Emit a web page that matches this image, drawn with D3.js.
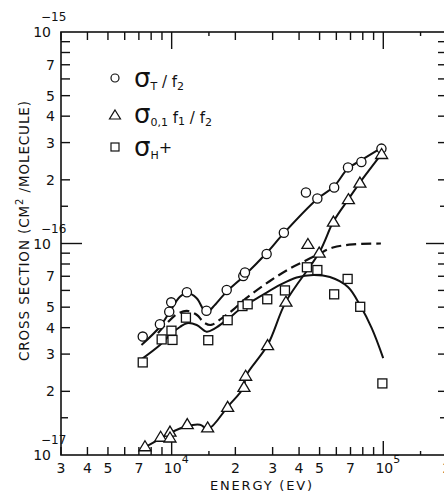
<!DOCTYPE html>
<html>
<head>
<meta charset="utf-8">
<script src="https://cdn.jsdelivr.net/npm/d3@7"></script>
<style>
  html, body { margin: 0; padding: 0; background: #fff; }
  svg { display: block; }
  text { font-family: "DejaVu Sans", sans-serif; fill: #111; }
</style>
</head>
<body>
<div id="chart"></div>
<script>
// ---------------- data (energy in eV, cross section in cm^2/molecule) ----------------
const circleE   = [7300, 8800, 9740, 9950, 11800, 14600, 18200, 21800, 22200, 28100, 33900, 43100, 48800, 58600, 68100, 78800, 98000];
const circleSig = [3.63e-17, 4.15e-17, 4.76e-17, 5.27e-17, 5.88e-17, 4.81e-17, 6.03e-17, 7.02e-17, 7.29e-17, 8.92e-17, 1.125e-16, 1.742e-16, 1.633e-16, 1.84e-16, 2.29e-16, 2.43e-16, 2.81e-16];

const triE   = [7480, 8870, 9820, 9820, 11850, 14790, 18390, 21960, 22370, 28400, 34670, 44040, 49790, 58120, 68420, 77540, 98200];
const triSig = [1.10e-17, 1.22e-17, 1.29e-17, 1.21e-17, 1.40e-17, 1.35e-17, 1.69e-17, 2.10e-17, 2.37e-17, 3.31e-17, 5.31e-17, 9.95e-17, 9.06e-17, 1.27e-16, 1.62e-16, 1.94e-16, 2.65e-16];

const sqE   = [7300, 8970, 9980, 10090, 11680, 14890, 18390, 21600, 22860, 28290, 34300, 43560, 48800, 58600, 67840, 77800, 99000];
const sqSig = [2.74e-17, 3.52e-17, 3.87e-17, 3.50e-17, 4.46e-17, 3.49e-17, 4.34e-17, 5.06e-17, 5.16e-17, 5.45e-17, 6.0e-17, 7.72e-17, 7.49e-17, 5.75e-17, 6.80e-17, 5.02e-17, 2.18e-17];

// fitted curves
const circleCurveE   = [7200, 8800, 9740, 10940, 11850, 13130, 14110, 14680, 15720, 18190, 21780, 28100, 33900, 48570, 58470, 68060, 78800, 98500];
const circleCurveSig = [3.31e-17, 4.04e-17, 4.71e-17, 5.60e-17, 5.83e-17, 5.51e-17, 4.88e-17, 4.72e-17, 5.02e-17, 5.92e-17, 6.97e-17, 9.02e-17, 1.12e-16, 1.62e-16, 1.86e-16, 2.26e-16, 2.48e-16, 2.84e-16];

const dashCurveE   = [8615, 9605, 10600, 11810, 13170, 14210, 15340, 17100, 19480, 22440, 29130, 36220, 42630, 50180, 57800, 71850, 97430];
const dashCurveSig = [3.77e-17, 4.25e-17, 4.64e-17, 4.80e-17, 4.59e-17, 4.23e-17, 4.12e-17, 4.40e-17, 4.85e-17, 5.50e-17, 6.65e-17, 7.62e-17, 8.27e-17, 8.99e-17, 9.57e-17, 9.91e-17, 1.0e-16];

const sqCurveE   = [7218, 8806, 10000, 10940, 11810, 13130, 14630, 16010, 18190, 21780, 26710, 32480, 38950, 46670, 55950, 68060, 77540, 88060, 99900];
const sqCurveSig = [2.84e-17, 3.31e-17, 3.76e-17, 4.03e-17, 4.20e-17, 4.12e-17, 3.83e-17, 3.97e-17, 4.35e-17, 5.02e-17, 5.68e-17, 6.37e-17, 6.91e-17, 7.10e-17, 6.94e-17, 6.23e-17, 5.12e-17, 3.99e-17, 2.87e-17];

const triCurveE   = [7480, 8644, 9820, 11850, 13610, 14890, 18390, 21960, 22370, 28400, 34670, 49790, 58120, 68420, 77540, 98200];
const triCurveSig = [1.09e-17, 1.18e-17, 1.27e-17, 1.37e-17, 1.39e-17, 1.33e-17, 1.69e-17, 2.10e-17, 2.35e-17, 3.31e-17, 5.31e-17, 9.06e-17, 1.27e-16, 1.62e-16, 1.94e-16, 2.65e-16];

// axis ticks
const xMinorTicks = [3000, 4000, 5000, 6000, 7000, 8000, 9000, 20000, 30000, 40000, 50000, 60000, 70000, 80000, 90000, 200000];
const xHalfTicks  = [15000, 150000];
const xDecadeTicks = [10000, 100000];
const xTickLabels = [[3000, "3"], [4000, "4"], [5000, "5"], [7000, "7"], [20000, "2"], [30000, "3"], [40000, "4"], [50000, "5"], [70000, "7"], [200000, "2"]];
const xDecadeLabels = [[10000, "4"], [100000, "5"]];

const yMinorTicks = [2e-17, 3e-17, 4e-17, 5e-17, 6e-17, 7e-17, 8e-17, 9e-17, 2e-16, 3e-16, 4e-16, 5e-16, 6e-16, 7e-16, 8e-16, 9e-16];
const yHalfTicks  = [1.5e-17, 1.5e-16];
const yDecadeTicks = [1e-16];
const yTickLabels = [[2e-17, "2"], [3e-17, "3"], [4e-17, "4"], [5e-17, "5"], [7e-17, "7"], [2e-16, "2"], [3e-16, "3"], [4e-16, "4"], [5e-16, "5"], [7e-16, "7"]];
const yDecadeLabels = [[1e-17, "−17"], [1e-16, "−16"], [1e-15, "−15"]];

// ---------------- drawing ----------------
const W = 444, H = 492;
const svg = d3.select("#chart").append("svg").attr("width", W).attr("height", H);

const x = d3.scaleLog().domain([3000, 2e5]).range([61, 447]);
const y = d3.scaleLog().domain([1e-17, 1e-15]).range([455, 32]);
const X0 = x.range()[0], X1 = x.range()[1], Y0 = y.range()[0], Y1 = y.range()[1];

const ink = "#111";
const g = svg.append("g");

// frame
g.append("rect").attr("x", X0).attr("y", Y1).attr("width", X1 - X0).attr("height", Y0 - Y1)
  .attr("fill", "none").attr("stroke", ink).attr("stroke-width", 1.6);

// x ticks (bottom up, top down)
function xt(vals, lenB, lenT) {
  vals.forEach(v => {
    g.append("line").attr("x1", x(v)).attr("x2", x(v)).attr("y1", Y0).attr("y2", Y0 - lenB).attr("stroke", ink).attr("stroke-width", 1.4);
    g.append("line").attr("x1", x(v)).attr("x2", x(v)).attr("y1", Y1).attr("y2", Y1 + lenT).attr("stroke", ink).attr("stroke-width", 1.4);
  });
}
xt(xMinorTicks, 8, 8);
xt(xHalfTicks, 4, 4);
xt(xDecadeTicks, 14, 17);

// y ticks (left inward, right inward)
function yt(vals, len) {
  vals.forEach(v => {
    g.append("line").attr("x1", X0).attr("x2", X0 + len).attr("y1", y(v)).attr("y2", y(v)).attr("stroke", ink).attr("stroke-width", 1.4);
    g.append("line").attr("x1", X1).attr("x2", X1 - len).attr("y1", y(v)).attr("y2", y(v)).attr("stroke", ink).attr("stroke-width", 1.4);
  });
}
yt(yMinorTicks, 9);
yt(yHalfTicks, 7);
yt(yDecadeTicks, 21);

// x tick labels
const lab = svg.append("g").style("font-size", "14px");
xTickLabels.forEach(([v, t]) => {
  lab.append("text").attr("x", x(v)).attr("y", 473).attr("text-anchor", "middle").text(t);
});
xDecadeLabels.forEach(([v, t]) => {
  lab.append("text").attr("x", x(v) + 1).attr("y", 473).attr("text-anchor", "middle").text("10");
  lab.append("text").attr("x", x(v) + 10).attr("y", 463).style("font-size", "11px").text(t);
});

// y tick labels
yTickLabels.forEach(([v, t]) => {
  lab.append("text").attr("x", 55).attr("y", y(v) + 5).attr("text-anchor", "end").text(t);
});
yDecadeLabels.forEach(([v, t]) => {
  lab.append("text").attr("x", 51).attr("y", y(v) + 5).attr("text-anchor", "end").text("10");
  lab.append("text").attr("x", 41).attr("y", y(v) - 11).style("font-size", "12px").text(t);
});

// axis titles
svg.append("text").attr("x", 261).attr("y", 490).attr("text-anchor", "middle")
  .style("font-size", "13px").attr("textLength", 102).attr("lengthAdjust", "spacing").text("ENERGY (EV)");

const yt2 = svg.append("text").attr("transform", "translate(29,231) rotate(-90)").attr("text-anchor", "middle")
  .style("font-size", "13.5px").attr("textLength", 260).attr("lengthAdjust", "spacing");
yt2.append("tspan").text("CROSS SECTION (CM");
yt2.append("tspan").attr("dy", -6).style("font-size", "10px").text("2");
yt2.append("tspan").attr("dy", 6).text(" /MOLECULE)");

// curves
const plot = svg.append("g");
const line = d3.line().x(d => x(d[0])).y(d => y(d[1])).curve(d3.curveCatmullRom.alpha(0.5));
const zip = (a, b) => a.map((v, i) => [v, b[i]]);

plot.append("path").attr("d", line(zip(circleCurveE, circleCurveSig))).attr("fill", "none").attr("stroke", ink).attr("stroke-width", 2);
plot.append("path").attr("d", line(zip(sqCurveE, sqCurveSig))).attr("fill", "none").attr("stroke", ink).attr("stroke-width", 2);
plot.append("path").attr("d", line(zip(triCurveE, triCurveSig))).attr("fill", "none").attr("stroke", ink).attr("stroke-width", 2);
plot.append("path").attr("d", line(zip(dashCurveE, dashCurveSig))).attr("fill", "none").attr("stroke", ink).attr("stroke-width", 2.2)
  .attr("stroke-dasharray", "10,5");

// markers
const triPath = "M0,-5.5L6,4.5L-6,4.5Z";
zip(circleE, circleSig).forEach(d => {
  plot.append("circle").attr("cx", x(d[0])).attr("cy", y(d[1])).attr("r", 4.6)
    .attr("fill", "#fff").attr("stroke", ink).attr("stroke-width", 1.3);
});
zip(sqE, sqSig).forEach(d => {
  plot.append("rect").attr("x", x(d[0]) - 4.5).attr("y", y(d[1]) - 4.5).attr("width", 9).attr("height", 9)
    .attr("fill", "#fff").attr("stroke", ink).attr("stroke-width", 1.3);
});
zip(triE, triSig).forEach(d => {
  plot.append("path").attr("transform", `translate(${x(d[0])},${y(d[1])})`).attr("d", triPath)
    .attr("fill", "#fff").attr("stroke", ink).attr("stroke-width", 1.3);
});

// legend
const leg = svg.append("g");
const legRows = [
  { kind: "circle", yy: 78 },
  { kind: "tri", yy: 115 },
  { kind: "sq", yy: 147 }
];
legRows.forEach(r => {
  if (r.kind === "circle") leg.append("circle").attr("cx", 115).attr("cy", r.yy).attr("r", 4).attr("fill", "#fff").attr("stroke", ink).attr("stroke-width", 1.2);
  if (r.kind === "sq") leg.append("rect").attr("x", 111).attr("y", r.yy - 4).attr("width", 8).attr("height", 8).attr("fill", "#fff").attr("stroke", ink).attr("stroke-width", 1.2);
  if (r.kind === "tri") leg.append("path").attr("transform", `translate(115,${r.yy})`).attr("d", "M0,-5L5.5,4L-5.5,4Z").attr("fill", "#fff").attr("stroke", ink).attr("stroke-width", 1.2);
});
function legText(yy, parts) {
  const t = leg.append("text").attr("x", 134).attr("y", yy);
  parts.forEach(p => {
    const s = t.append("tspan").text(p.t).style("font-size", p.fs + "px");
    if (p.dy) s.attr("dy", p.dy);
    if (p.dx) s.attr("dx", p.dx);
  });
}
legText(87, [{ t: "σ", fs: 26 }, { t: "T", fs: 11, dy: 3 }, { t: " / f", fs: 15, dy: -3 }, { t: "2", fs: 11, dy: 3 }]);
legText(123, [{ t: "σ", fs: 26 }, { t: "0,1", fs: 11, dy: 3 }, { t: " f", fs: 15, dy: -3 }, { t: "1", fs: 11, dy: 2 }, { t: " / f", fs: 15, dy: -2 }, { t: "2", fs: 11, dy: 3 }]);
legText(156, [{ t: "σ", fs: 26 }, { t: "H", fs: 11, dy: 3 }, { t: "+", fs: 16, dy: -6 }]);
</script>
</body>
</html>
